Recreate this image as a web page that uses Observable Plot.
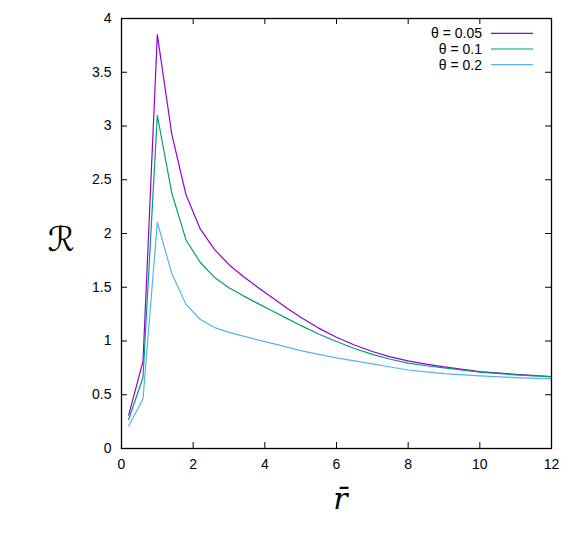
<!DOCTYPE html>
<html><head><meta charset="utf-8">
<script src="https://cdn.jsdelivr.net/npm/d3@7"></script>
<script src="https://cdn.jsdelivr.net/npm/@observablehq/plot@0.6"></script>
<style>body{margin:0;background:#fff}</style>
</head><body><div id="chart"></div>
<script>
// data
const rBar   = [0.2, 0.6, 1.0, 1.4, 1.8, 2.2, 2.6, 3.0, 3.4, 3.8, 4.2, 4.6, 5.0, 5.5, 6.0, 6.5, 7.0, 7.5, 8.0, 8.5, 9.0, 10.0, 11.0, 12.0];
const R_005  = [0.31, 0.81, 3.85, 2.93, 2.36, 2.04, 1.85, 1.71, 1.60, 1.50, 1.405, 1.31, 1.22, 1.12, 1.035, 0.963, 0.902, 0.852, 0.815, 0.785, 0.76, 0.715, 0.69, 0.67];
const R_01   = [0.27, 0.66, 3.10, 2.38, 1.94, 1.73, 1.59, 1.495, 1.42, 1.35, 1.282, 1.213, 1.145, 1.065, 0.995, 0.93, 0.875, 0.83, 0.795, 0.77, 0.75, 0.71, 0.685, 0.667];
const R_02   = [0.21, 0.46, 2.105, 1.63, 1.34, 1.20, 1.125, 1.08, 1.045, 1.01, 0.978, 0.945, 0.91, 0.875, 0.843, 0.815, 0.787, 0.758, 0.73, 0.712, 0.697, 0.675, 0.66, 0.648];
const seriesLabels = ["θ = 0.05", "θ = 0.1", "θ = 0.2"];
const seriesColors = ["#9400d3", "#009e73", "#56b4e9"];
const xTicks = [0, 2, 4, 6, 8, 10, 12];
const yTicks = [0, 0.5, 1, 1.5, 2, 2.5, 3, 3.5, 4];
const yTickLabels = ["0", "0.5", "1", "1.5", "2", "2.5", "3", "3.5", "4"];
const xLabel = "r\u0304";
const yLabel = "ℛ";

const seriesValues = [R_005, R_01, R_02];
const data = seriesValues.flatMap((vals, s) => vals.map((v, i) => ({r: rBar[i], R: v, theta: seriesLabels[s]})));

const W = 585, H = 537, mL = 121, mR = 34, mT = 18, mB = 89;
const fw = W - mL - mR, fh = H - mT - mB;
const font = "'Liberation Sans', Arial, Helvetica, sans-serif";

const chart = Plot.plot({
  width: W, height: H,
  marginLeft: mL, marginRight: mR, marginTop: mT, marginBottom: mB,
  style: {fontFamily: font, fontSize: "14px", color: "#000", background: "#fff"},
  x: {domain: [0, 12]},
  y: {domain: [0, 4]},
  color: {domain: seriesLabels, range: seriesColors},
  marks: [
    Plot.line(data, {x: "r", y: "R", stroke: "theta", z: "theta", strokeWidth: 1.2}),
    Plot.frame({stroke: "#000", strokeWidth: 1.3}),
    Plot.tickX(xTicks, {x: d => d, insetTop: fh - 6, stroke: "#000"}),
    Plot.tickX(xTicks, {x: d => d, insetBottom: fh - 6, stroke: "#000"}),
    Plot.tickY(yTicks, {y: d => d, insetRight: fw - 6, stroke: "#000"}),
    Plot.tickY(yTicks, {y: d => d, insetLeft: fw - 6, stroke: "#000"}),
    Plot.axisX(xTicks, {tickSize: 0, tickPadding: 11, label: null, fontSize: 14}),
    Plot.axisY(yTicks, {tickSize: 0, tickPadding: 10, label: null, fontSize: 14, tickFormat: d => yTickLabels[yTicks.indexOf(d)]}),
    Plot.text([xLabel], {text: d => d, frameAnchor: "bottom", dx: 4, dy: 60, fontSize: 30, fontStyle: "italic", fontFamily: "'DejaVu Serif', serif"}),
    Plot.text([yLabel], {text: d => d, frameAnchor: "left", dx: -74, dy: 7, fontSize: 34, fontFamily: "'DejaVu Sans', sans-serif"})
  ]
});
document.getElementById("chart").append(chart);

// legend (top right, inside frame)
const svg = d3.select(chart);
const lg = svg.append("g").attr("font-family", font).attr("font-size", 14);
seriesLabels.forEach((lab, i) => {
  const y = mT + 15.3 + i * 15.7;
  lg.append("text").attr("x", mL + fw - 69).attr("y", y).attr("dy", "0.35em")
    .attr("text-anchor", "end").attr("fill", "#000").text(lab);
  lg.append("line").attr("x1", mL + fw - 60).attr("x2", mL + fw - 18)
    .attr("y1", y).attr("y2", y).attr("stroke", seriesColors[i]).attr("stroke-width", 1.2);
});
</script>
</body></html>
